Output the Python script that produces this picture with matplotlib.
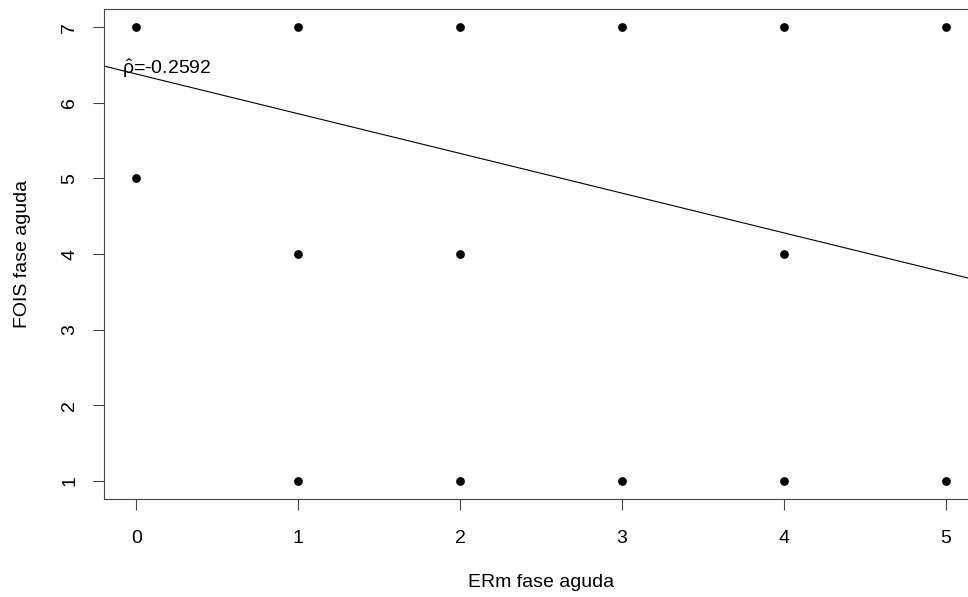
import matplotlib
matplotlib.use("Agg")
import matplotlib.pyplot as plt
import numpy as np

plt.rcParams['font.family'] = ['Liberation Sans', 'DejaVu Sans']
plt.rcParams['mathtext.fontset'] = 'custom'
plt.rcParams['mathtext.rm'] = 'Liberation Sans'
plt.rcParams['mathtext.it'] = 'Liberation Sans'

erm = [0, 0, 1, 1, 1, 2, 2, 2, 3, 3, 4, 4, 4, 5, 5]
fois = [7, 5, 7, 4, 1, 7, 4, 1, 7, 1, 7, 4, 1, 7, 1]
fit_intercept = 6.38
fit_slope = -0.525
rho_label = r'$\hat{\rho}$=-0.2592'

fig = plt.figure(figsize=(9.68, 5.97), dpi=100)
ax = fig.add_axes([104 / 968, 98 / 597, 874 / 968, 490 / 597])

ax.plot(erm, fois, 'o', color='black', markersize=6.3, markeredgewidth=0)
xs = np.array([-1, 6])
ax.plot(xs, fit_intercept + fit_slope * xs, color='black', linewidth=0.8)
ax.text(-0.09, 6.45, rho_label, fontsize=14, ha='left', va='center')

ax.set_xlim(-0.2, 5.2)
ax.set_ylim(0.76, 7.24)
ax.set_xticks(range(6))
ax.set_yticks(range(1, 8))
ax.tick_params(axis='both', length=8, width=0.8, labelsize=14, color='#444444')
ax.tick_params(axis='x', pad=14)
ax.tick_params(axis='y', pad=10.5)
for lab in ax.get_yticklabels():
    lab.set_rotation(90)
    lab.set_va('center')
for s in ax.spines.values():
    s.set_linewidth(0.8)
    s.set_color('#444444')

ax.set_xlabel('ERm fase aguda', fontsize=14, labelpad=20)
ax.set_ylabel('FOIS fase aguda', fontsize=14, labelpad=22)

fig.savefig('out.png', dpi=100)
